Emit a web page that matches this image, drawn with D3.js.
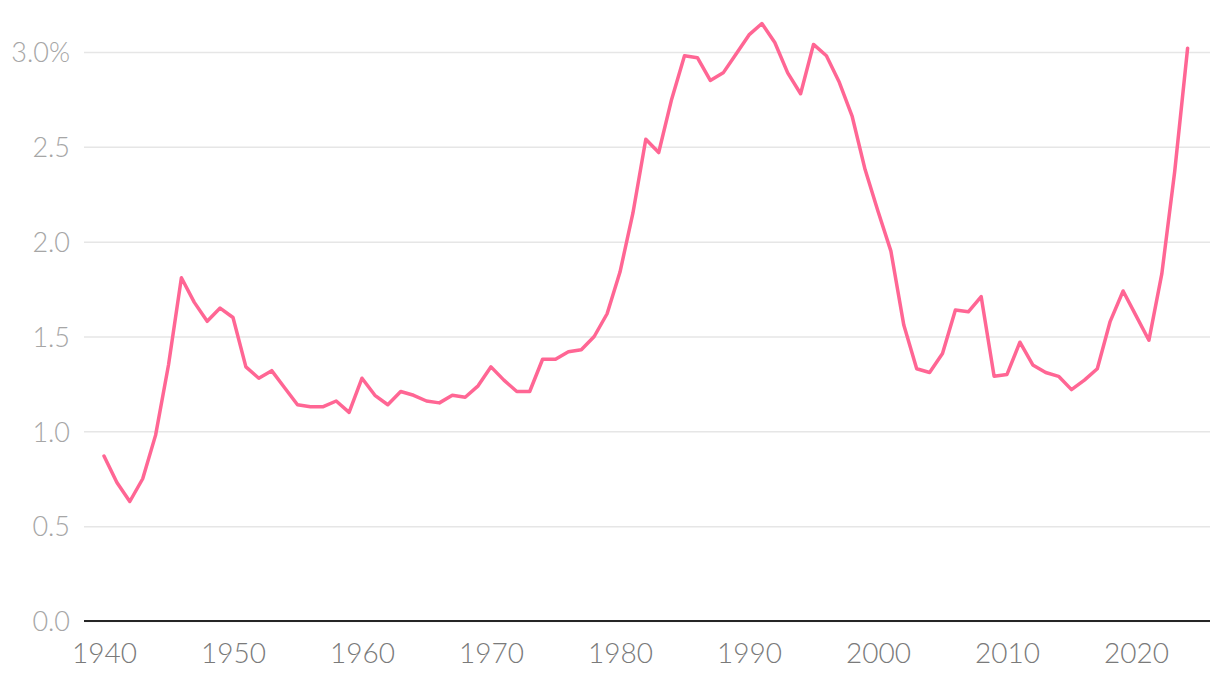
<!DOCTYPE html>
<html><head><meta charset="utf-8">
<script src="https://cdn.jsdelivr.net/npm/d3@7"></script>
<style>
body{margin:0;background:#fff;}
svg{display:block;}
text{font-family:Lato,"Open Sans",sans-serif;font-weight:300;}
</style></head>
<body>
<svg id="c" width="1220" height="680"></svg>
<script>
const years = d3.range(1940, 2025);
const values = [
0.87,0.73,0.63,0.75,0.98,1.35,1.81,1.68,1.58,1.65,
1.60,1.34,1.28,1.32,1.23,1.14,1.13,1.13,1.16,1.10,
1.28,1.19,1.14,1.21,1.19,1.16,1.15,1.19,1.18,1.24,
1.34,1.27,1.21,1.21,1.38,1.38,1.42,1.43,1.50,1.62,
1.84,2.15,2.54,2.47,2.75,2.98,2.97,2.85,2.89,2.99,
3.09,3.15,3.05,2.89,2.78,3.04,2.98,2.84,2.66,2.38,
2.16,1.95,1.56,1.33,1.31,1.41,1.64,1.63,1.71,1.29,
1.30,1.47,1.35,1.31,1.29,1.22,1.27,1.33,1.58,1.74,
1.61,1.48,1.83,2.37,3.02];
const yTicks = [0,0.5,1.0,1.5,2.0,2.5,3.0];
const xTicks = [1940,1950,1960,1970,1980,1990,2000,2010,2020];

const svg = d3.select("#c");
const mLeft = 84, mRight = 1210, mTop = 52, mBottom = 621;
const x = d3.scaleLinear().domain([1940, 2020]).range([104, 1136]);
const y = d3.scaleLinear().domain([0, 3]).range([mBottom, mTop]);

// grid + y labels
const ya = svg.append("g").attr("transform", `translate(${mLeft},0)`)
  .call(d3.axisLeft(y).tickValues(yTicks).tickSize(-(mRight-mLeft)).tickPadding(14)
    .tickFormat(d => d === 3 ? "3.0%" : d3.format(".1f")(d)));
ya.select(".domain").remove();
ya.selectAll(".tick line").attr("stroke", "#e6e6e6").attr("stroke-width", 1.5);
ya.selectAll(".tick text").attr("fill", "#a6a6a6").attr("font-size", 27).attr("dy", "0.36em");

// x axis
const xa = svg.append("g").attr("transform", `translate(0,${mBottom})`)
  .call(d3.axisBottom(x).tickValues(xTicks).tickSize(0).tickPadding(22).tickFormat(d3.format("d")));
xa.select(".domain").remove();
xa.selectAll(".tick text").attr("fill", "#7a7a7a").attr("font-size", 28);
svg.append("line").attr("x1", mLeft).attr("x2", mRight).attr("y1", y(0)).attr("y2", y(0))
  .attr("stroke", "#262626").attr("stroke-width", 2);

// line
const data = years.map((yr, i) => ({yr, v: values[i]}));
svg.append("path").datum(data)
  .attr("fill", "none").attr("stroke", "#ff6694").attr("stroke-width", 3.5)
  .attr("stroke-linejoin", "round").attr("stroke-linecap", "round")
  .attr("d", d3.line().x(d => x(d.yr)).y(d => y(d.v)));
</script>
</body></html>
